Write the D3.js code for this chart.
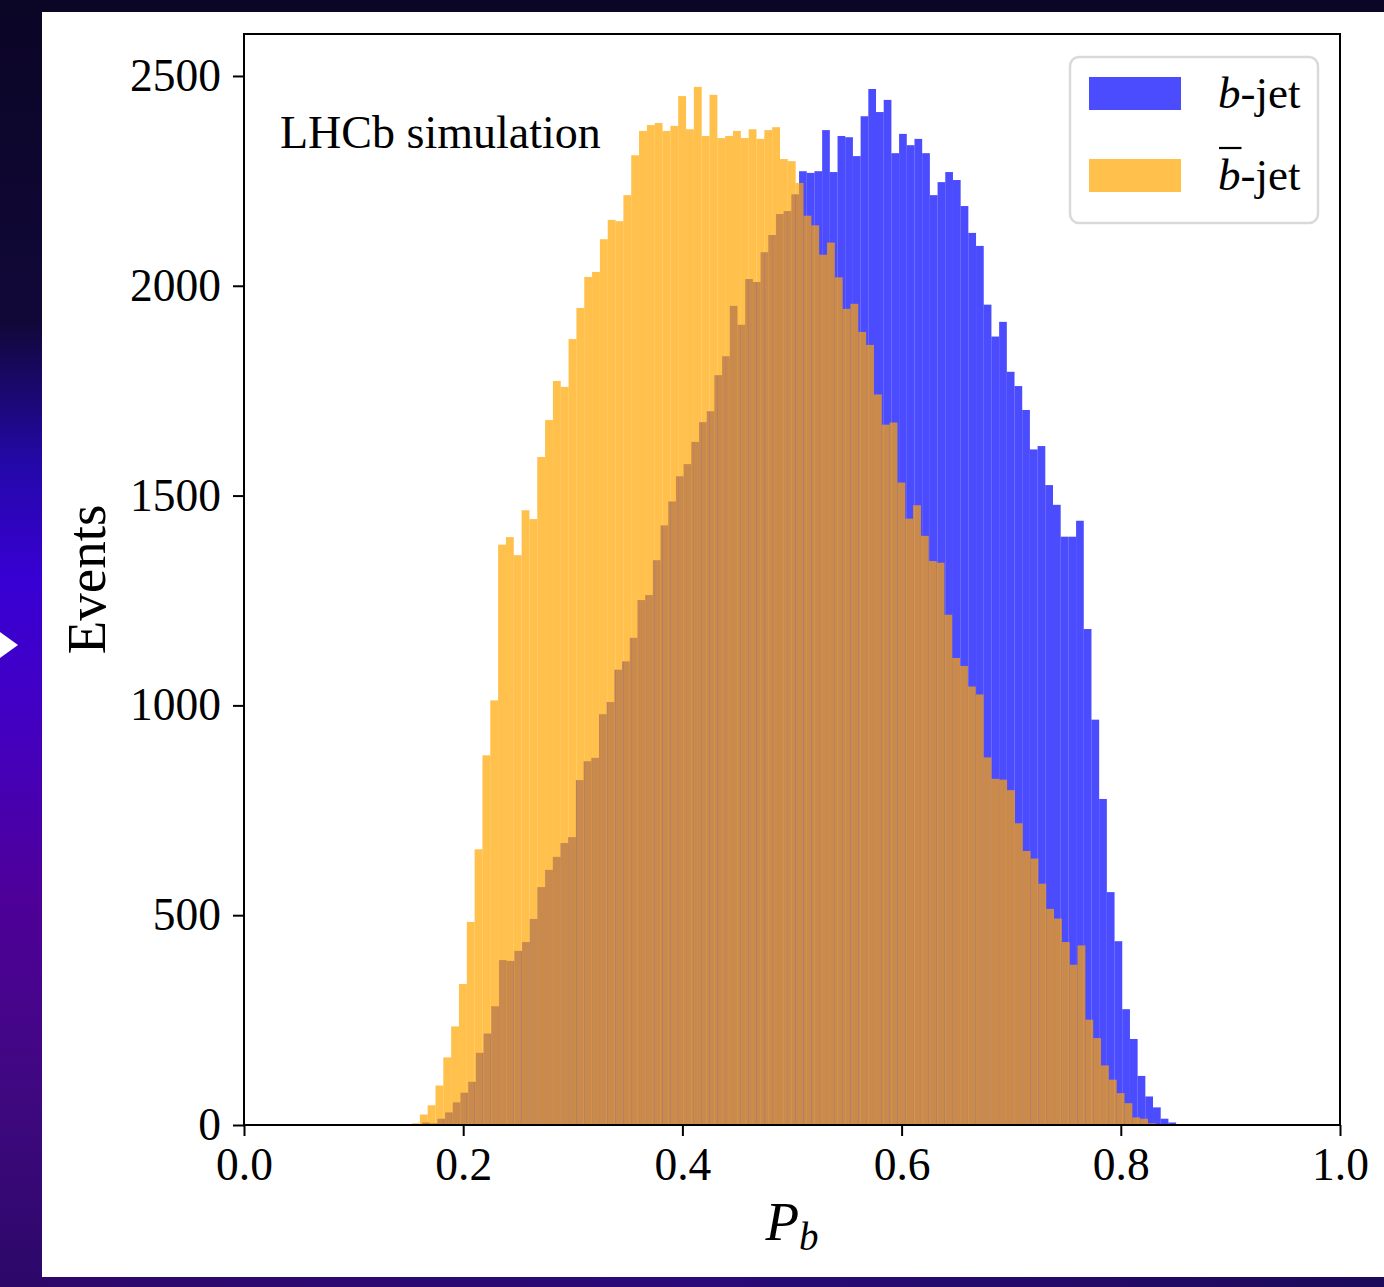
<!DOCTYPE html>
<html lang="en">
<head>
<meta charset="UTF-8">
<title>Pb distribution</title>
<script src="https://cdnjs.cloudflare.com/ajax/libs/d3/7.8.5/d3.min.js"></script>
<style>
    body { margin: 0; background: #fff; }
    svg { display: block; }
    text { font-family: "Liberation Serif", "Times New Roman", serif; }
</style>
</head>
<body>
<div id="chart"></div>
<script>
    // b-jet histogram: first bin edge, bin width, counts per bin
    var bjetStart = 0.16241, bjetWidth = 0.007021;
    var bjetCounts = [6, 4, 15, 30, 54, 77, 103, 172, 218, 283,
        393, 391, 415, 436, 491, 567, 608, 639, 672, 686,
        822, 867, 875, 979, 1008, 1085, 1105, 1161, 1251, 1263,
        1346, 1429, 1486, 1546, 1575, 1628, 1675, 1701, 1787, 1832,
        1952, 1907, 2016, 2009, 2080, 2121, 2171, 2178, 2218, 2273,
        2269, 2273, 2371, 2271, 2357, 2354, 2309, 2404, 2469, 2414,
        2443, 2316, 2362, 2335, 2350, 2316, 2216, 2247, 2271, 2252,
        2190, 2126, 2095, 1955, 1879, 1914, 1795, 1761, 1704, 1610,
        1618, 1525, 1478, 1402, 1402, 1440, 1182, 966, 777, 555,
        438, 276, 205, 117, 68, 42, 15, 6];

    // b-bar-jet histogram
    var bbarStart = 0.15328, bbarWidth = 0.007144;
    var bbarCounts = [4, 25, 47, 94, 161, 235, 336, 484, 657, 881,
        1012, 1383, 1401, 1358, 1465, 1444, 1592, 1680, 1773, 1759,
        1873, 1947, 2021, 2033, 2111, 2157, 2154, 2216, 2311, 2369,
        2383, 2388, 2369, 2381, 2452, 2373, 2474, 2357, 2455, 2352,
        2357, 2369, 2352, 2373, 2350, 2371, 2378, 2302, 2297, 2245,
        2167, 2144, 2074, 2103, 2020, 1945, 1957, 1890, 1859, 1741,
        1669, 1674, 1531, 1445, 1477, 1404, 1344, 1340, 1216, 1113,
        1094, 1045, 1026, 876, 825, 823, 798, 719, 653, 635,
        575, 515, 492, 436, 382, 428, 251, 207, 142, 108,
        76, 52, 18, 15, 4, 2];

    var xTicks = [0, 0.2, 0.4, 0.6, 0.8, 1.0];
    var yTicks = [0, 500, 1000, 1500, 2000, 2500];

    var W = 1384, H = 1287;
    var margin = {top: 34, right: 44, bottom: 162, left: 244},
        width = W - margin.left - margin.right,
        height = H - margin.top - margin.bottom;

    var svg = d3.select("#chart").append("svg")
        .attr("width", W)
        .attr("height", H);

    // dark frame around the white figure
    var defs = svg.append("defs");
    var grad = defs.append("linearGradient")
        .attr("id", "side").attr("x1", 0).attr("y1", 0).attr("x2", 0).attr("y2", 1);
    [[0, "#0b0526"], [0.25, "#110838"], [0.36, "#2408a8"], [0.45, "#3800d4"],
     [0.55, "#4200c4"], [0.7, "#4e0098"], [0.85, "#3f0880"], [1, "#2c0868"]]
        .forEach(function (s) {
            grad.append("stop").attr("offset", s[0]).attr("stop-color", s[1]);
        });
    var gradB = defs.append("linearGradient")
        .attr("id", "bottom").attr("x1", 0).attr("y1", 0).attr("x2", 1).attr("y2", 0);
    [[0, "#2c0868"], [0.5, "#2a0a78"], [1, "#1c0a5a"]].forEach(function (s) {
        gradB.append("stop").attr("offset", s[0]).attr("stop-color", s[1]);
    });

    svg.append("rect").attr("width", W).attr("height", H).attr("fill", "url(#side)");
    svg.append("rect").attr("x", 0).attr("y", 0).attr("width", W).attr("height", 12)
        .attr("fill", "#0b0526");
    svg.append("rect").attr("x", 0).attr("y", 1277).attr("width", W).attr("height", 10)
        .attr("fill", "url(#bottom)");
    svg.append("rect").attr("x", 42).attr("y", 12).attr("width", W - 42).attr("height", 1265)
        .attr("fill", "#fff");
    svg.append("path").attr("d", "M0,632L18,645L0,658Z").attr("fill", "#fff");

    var g = svg.append("g")
        .attr("transform", "translate(" + margin.left + "," + margin.top + ")");

    var x = d3.scaleLinear().domain([0, 1]).range([0, width]);
    var y = d3.scaleLinear().domain([0, 2600]).range([height, 0]);

    function drawHist(counts, start, w, color) {
        g.append("g").selectAll("rect")
            .data(counts)
            .enter().append("rect")
            .attr("x", function (d, i) { return x(start + i * w); })
            .attr("width", function (d, i) { return x(start + (i + 1) * w) - x(start + i * w); })
            .attr("y", function (d) { return y(d); })
            .attr("height", function (d) { return y(0) - y(d); })
            .attr("fill", color)
            .attr("fill-opacity", 0.7);
    }
    drawHist(bjetCounts, bjetStart, bjetWidth, "blue");
    drawHist(bbarCounts, bbarStart, bbarWidth, "orange");

    var xAxis = d3.axisBottom(x).tickValues(xTicks).tickFormat(d3.format(".1f"))
        .tickSize(11).tickPadding(12);
    var yAxis = d3.axisLeft(y).tickValues(yTicks).tickFormat(d3.format("d"))
        .tickSize(11).tickPadding(12);

    var gx = g.append("g").attr("transform", "translate(0," + height + ")").call(xAxis);
    var gy = g.append("g").call(yAxis);
    [gx, gy].forEach(function (a) {
        a.select(".domain").remove();
        a.selectAll(".tick line").attr("stroke", "#000").attr("stroke-width", 2);
        a.selectAll(".tick text").attr("fill", "#000")
            .style("font-family", "'Liberation Serif', serif").style("font-size", "45.5px");
    });

    // frame
    g.append("rect").attr("width", width).attr("height", height)
        .attr("fill", "none").attr("stroke", "#000").attr("stroke-width", 2);

    // axis titles
    g.append("text")
        .attr("transform", "rotate(-90)")
        .attr("x", -height / 2)
        .attr("y", 105 - margin.left)
        .attr("text-anchor", "middle")
        .style("font-size", "55px")
        .text("Events");

    var xl = g.append("text")
        .attr("x", width / 2)
        .attr("y", 1240 - margin.top)
        .attr("text-anchor", "middle")
        .style("font-size", "55px")
        .style("font-style", "italic");
    xl.append("tspan").text("P");
    xl.append("tspan").attr("dy", 10).style("font-size", "39px").text("b");

    g.append("text")
        .attr("x", 280 - margin.left)
        .attr("y", 148 - margin.top)
        .style("font-size", "46px")
        .text("LHCb simulation");

    // legend
    var leg = g.append("g").attr("transform", "translate(" + (1070 - margin.left) + "," + (57 - margin.top) + ")");
    leg.append("rect").attr("width", 248).attr("height", 166).attr("rx", 9)
        .attr("fill", "#fff").attr("fill-opacity", 0.8)
        .attr("stroke", "#d9d9d9").attr("stroke-width", 2.5);
    var legItems = [{name: "b", color: "blue", bar: false}, {name: "b", color: "orange", bar: true}];
    legItems.forEach(function (d, i) {
        var row = leg.append("g").attr("transform", "translate(0," + (i * 82) + ")");
        row.append("rect").attr("x", 19).attr("y", 20).attr("width", 92).attr("height", 33)
            .attr("fill", d.color).attr("fill-opacity", 0.7);
        var t = row.append("text").attr("x", 148).attr("y", 51).style("font-size", "45px");
        var b = t.append("tspan").style("font-style", "italic").text(d.name);
        t.append("tspan").text("-jet");
        if (d.bar) {
            var bw = b.node().getComputedTextLength();
            row.append("line").attr("x1", 149).attr("x2", 148 + bw + 1)
                .attr("y1", 9).attr("y2", 9)
                .attr("stroke", "#000").attr("stroke-width", 2.2);
        }
    });
</script>
</body>
</html>
